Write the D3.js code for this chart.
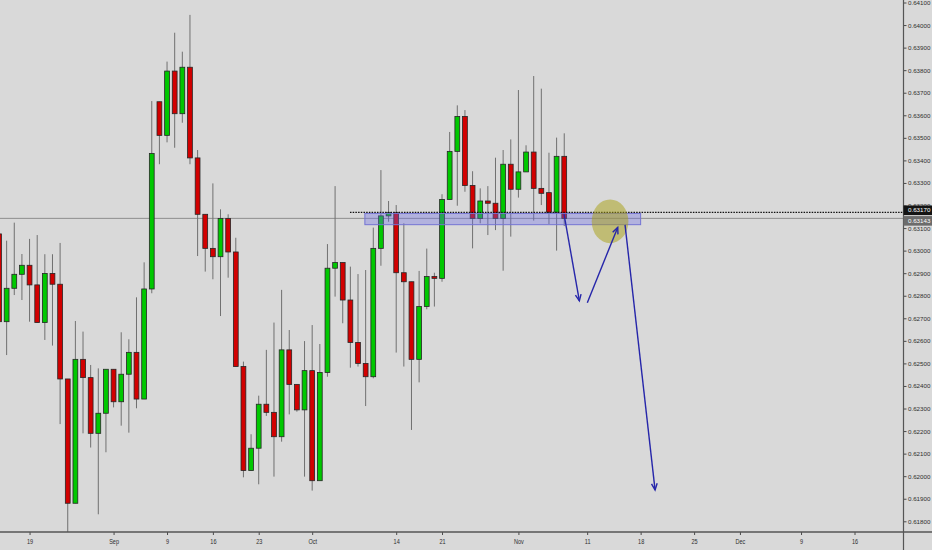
<!DOCTYPE html>
<html>
<head>
<meta charset="utf-8">
<script src="https://cdn.jsdelivr.net/npm/d3@7"></script>
<style>
html, body { margin: 0; padding: 0; background: #d9d9d9; overflow: hidden; }
</style>
</head>
<body>
<div id="chart"></div>
<script>
// daily candles, one per bar index (Sunday bars included)
var opens = [0.63074, 0.62685, 0.62833, 0.62895, 0.62935, 0.62848, 0.62681, 0.62899, 0.62851, 0.62431,
    0.61880, 0.62518, 0.62437, 0.62190, 0.62279, 0.62474, 0.62330, 0.62452, 0.62549, 0.62342,
    0.62830, 0.63660, 0.63511, 0.63796, 0.63607, 0.63813, 0.63411, 0.63161, 0.63010, 0.62973,
    0.63142, 0.62994, 0.62486, 0.62025, 0.62124, 0.62319, 0.62283, 0.62175, 0.62560, 0.62407,
    0.62294, 0.62468, 0.61980, 0.62460, 0.62922, 0.62947, 0.62781, 0.62593, 0.62500, 0.62441,
    0.63010, 0.63154, 0.63168, 0.62902, 0.62862, 0.62518, 0.62752, 0.62885, 0.62877, 0.63227,
    0.63440, 0.63595, 0.63289, 0.63143, 0.63220, 0.63210, 0.63143, 0.63383, 0.63272, 0.63349,
    0.63437, 0.63276, 0.63257, 0.63170, 0.63418];
var highs = [0.63091, 0.63044, 0.63124, 0.62985, 0.63052, 0.63069, 0.62984, 0.62984, 0.63034, 0.62431,
    0.62688, 0.62641, 0.62493, 0.62478, 0.62474, 0.62474, 0.62638, 0.62607, 0.62793, 0.62948,
    0.63663, 0.63660, 0.63838, 0.63966, 0.63882, 0.64045, 0.63446, 0.63161, 0.63298, 0.63183,
    0.63161, 0.63057, 0.62508, 0.62186, 0.62357, 0.62560, 0.62681, 0.62826, 0.62648, 0.62407,
    0.62599, 0.62670, 0.62586, 0.63029, 0.63286, 0.62947, 0.62929, 0.62896, 0.62914, 0.63102,
    0.63357, 0.63220, 0.63202, 0.63121, 0.62862, 0.62910, 0.63009, 0.62902, 0.63250, 0.63526,
    0.63644, 0.63623, 0.63352, 0.63276, 0.63286, 0.63412, 0.63446, 0.63493, 0.63712, 0.63467,
    0.63774, 0.63718, 0.63434, 0.63501, 0.63520];
var lows = [0.62670, 0.62537, 0.62803, 0.62781, 0.62685, 0.62681, 0.62604, 0.62579, 0.62231, 0.61745,
    0.61880, 0.62190, 0.62127, 0.61831, 0.62106, 0.62305, 0.62224, 0.62193, 0.62301, 0.62342,
    0.62811, 0.63383, 0.63480, 0.63456, 0.63567, 0.63383, 0.62976, 0.62907, 0.62873, 0.62710,
    0.62880, 0.62486, 0.61995, 0.62025, 0.61964, 0.62267, 0.61998, 0.62153, 0.62274, 0.62286,
    0.61998, 0.61936, 0.61980, 0.62441, 0.62796, 0.62678, 0.62481, 0.62486, 0.62311, 0.62434,
    0.62933, 0.63128, 0.62548, 0.62486, 0.62205, 0.62416, 0.62740, 0.62752, 0.62862, 0.63227,
    0.63199, 0.63261, 0.63010, 0.63121, 0.63069, 0.63091, 0.62911, 0.63062, 0.63235, 0.63349,
    0.63133, 0.63202, 0.63118, 0.63000, 0.63109];
var closes = [0.62685, 0.62833, 0.62895, 0.62935, 0.62848, 0.62681, 0.62899, 0.62851, 0.62431, 0.61880,
    0.62518, 0.62437, 0.62190, 0.62279, 0.62474, 0.62330, 0.62452, 0.62549, 0.62342, 0.62830,
    0.63431, 0.63511, 0.63796, 0.63607, 0.63813, 0.63411, 0.63161, 0.63010, 0.62973, 0.63142,
    0.62994, 0.62486, 0.62025, 0.62124, 0.62319, 0.62283, 0.62175, 0.62560, 0.62407, 0.62294,
    0.62468, 0.61980, 0.62460, 0.62922, 0.62947, 0.62781, 0.62593, 0.62500, 0.62441, 0.63010,
    0.63154, 0.63168, 0.62902, 0.62862, 0.62518, 0.62752, 0.62885, 0.62877, 0.63227, 0.63440,
    0.63595, 0.63289, 0.63143, 0.63220, 0.63210, 0.63143, 0.63383, 0.63272, 0.63349, 0.63437,
    0.63276, 0.63254, 0.63170, 0.63418, 0.63143];

var tickIndex = [4, 15, 22, 28, 34, 41, 52, 58, 68, 77, 84, 91, 97, 105, 112];
var tickLabels = ["19", "Sep", "9", "16", "23", "Oct", "14", "21", "Nov", "11", "18", "25", "Dec", "9", "16"];
var priceTicks = [0.618, 0.619, 0.620, 0.621, 0.622, 0.623, 0.624, 0.625, 0.626, 0.627, 0.628, 0.629,
    0.630, 0.631, 0.632, 0.633, 0.634, 0.635, 0.636, 0.637, 0.638, 0.639, 0.640, 0.641];

// drawings (bar index / price)
var lastPrice = 0.63143;
var levelPrice = 0.63170;
var levelStart = 45.95;
var zoneIndex = [47.9, 84.0];
var zonePrice = [0.63165, 0.63115];
var circleCenter = [80.0, 0.63130];
var circleSize = [2.4, 0.00097];
var arrowFrom = [[73.97, 0.63162], [77.02, 0.62769], [81.96, 0.63114]];
var arrowTo = [[75.98, 0.62777], [81.0, 0.63103], [85.89, 0.61939]];

var width = 932;
var height = 550;
var plotRight = 903.5;
var plotBottom = 532;
var font = "'Liberation Sans', Arial, sans-serif";

var x = d3.scaleLinear().domain([0, 112]).range([-1, 854.5]);
var y = d3.scaleLinear().domain([0.618, 0.641]).range([521.3, 2.5]);

var svg = d3.select("#chart").append("svg")
    .attr("width", width).attr("height", height)
    .style("display", "block")
    .style("font-family", font);

svg.append("rect").attr("width", width).attr("height", height).attr("fill", "#d9d9d9");

svg.append("clipPath").attr("id", "plot-clip")
    .append("rect").attr("x", 0).attr("y", 0).attr("width", plotRight).attr("height", plotBottom);

var plot = svg.append("g").attr("clip-path", "url(#plot-clip)");

// last price line
plot.append("line")
    .attr("x1", 0).attr("x2", plotRight)
    .attr("y1", y(lastPrice)).attr("y2", y(lastPrice))
    .attr("stroke", "#8e8e8e").attr("stroke-width", 1);

var bars = plot.append("g").selectAll("g")
    .data(opens.map(function(o, i) {
        return { i: i, open: o, high: highs[i], low: lows[i], close: closes[i] };
    }))
    .enter().append("g");

bars.append("line")
    .attr("x1", function(d) { return x(d.i); })
    .attr("x2", function(d) { return x(d.i); })
    .attr("y1", function(d) { return y(d.high); })
    .attr("y2", function(d) { return y(d.low); })
    .attr("stroke", "#707070").attr("stroke-width", 1);

bars.append("rect")
    .attr("x", function(d) { return x(d.i) - 2.4; })
    .attr("width", 4.8)
    .attr("y", function(d) { return y(Math.max(d.open, d.close)); })
    .attr("height", function(d) {
        return Math.max(1.5, Math.abs(y(d.open) - y(d.close)));
    })
    .attr("fill", function(d) { return d.close >= d.open ? "#00c800" : "#d20000"; })
    .attr("stroke", "#262626").attr("stroke-width", 0.8);

// support zone
plot.append("rect")
    .attr("x", x(zoneIndex[0]))
    .attr("width", x(zoneIndex[1]) - x(zoneIndex[0]))
    .attr("y", y(zonePrice[0]))
    .attr("height", y(zonePrice[1]) - y(zonePrice[0]))
    .attr("fill", "rgb(106,106,231)").attr("fill-opacity", 0.35)
    .attr("stroke", "#7474d4").attr("stroke-width", 1);

// dotted level ray
plot.append("line")
    .attr("x1", x(levelStart)).attr("x2", plotRight)
    .attr("y1", y(levelPrice)).attr("y2", y(levelPrice))
    .attr("stroke", "#111").attr("stroke-width", 1.3)
    .attr("stroke-dasharray", "1.5,1.2");

plot.append("ellipse")
    .attr("cx", x(circleCenter[0])).attr("cy", y(circleCenter[1]))
    .attr("rx", x(circleSize[0]) - x(0))
    .attr("ry", y(0.62) - y(0.62 + circleSize[1]))
    .attr("fill", "rgb(168,160,15)").attr("fill-opacity", 0.5);

// arrows
var arrowColor = "#2626aa";
arrowFrom.forEach(function(a, k) {
    var x1 = x(a[0]), y1 = y(a[1]), x2 = x(arrowTo[k][0]), y2 = y(arrowTo[k][1]);
    var ang = Math.atan2(y2 - y1, x2 - x1);
    var len = 7, spread = 0.42;
    plot.append("line")
        .attr("x1", x1).attr("y1", y1).attr("x2", x2).attr("y2", y2)
        .attr("stroke", arrowColor).attr("stroke-width", 1.4);
    plot.append("path")
        .attr("d", "M" + (x2 - len * Math.cos(ang - spread)) + "," + (y2 - len * Math.sin(ang - spread)) +
            "L" + x2 + "," + y2 +
            "L" + (x2 - len * Math.cos(ang + spread)) + "," + (y2 - len * Math.sin(ang + spread)))
        .attr("fill", "none").attr("stroke", arrowColor).attr("stroke-width", 1.4);
});

// axes
var xAxis = d3.axisBottom(x).tickValues(tickIndex)
    .tickFormat(function(d, i) { return tickLabels[i]; })
    .tickSize(3).tickPadding(4);
var xg = svg.append("g").attr("transform", "translate(0," + plotBottom + ")")
    .attr("color", "#4a4a4a").call(xAxis);
xg.select(".domain").remove();
xg.selectAll("text").attr("font-size", 7.5).attr("fill", "#2e2e2e")
    .attr("font-family", font)
    .attr("transform", "scale(0.74,1)");

var yAxis = d3.axisRight(y).tickValues(priceTicks)
    .tickFormat(d3.format(".5f"))
    .tickSize(3).tickPadding(1.5);
var yg = svg.append("g").attr("transform", "translate(" + plotRight + ",0)")
    .attr("color", "#4a4a4a").call(yAxis);
yg.select(".domain").remove();
yg.selectAll("text").attr("font-size", 6.2).attr("fill", "#2e2e2e")
    .attr("font-family", font);

svg.append("line").attr("x1", 0).attr("x2", width)
    .attr("y1", plotBottom).attr("y2", plotBottom)
    .attr("stroke", "#555").attr("stroke-width", 1.5);
svg.append("line").attr("x1", plotRight).attr("x2", plotRight)
    .attr("y1", 0).attr("y2", height)
    .attr("stroke", "#555").attr("stroke-width", 1.2);

// price labels on the scale
var labels = [
    { price: levelPrice, text: "0.63170", fill: "#141414", shift: -2 },
    { price: lastPrice, text: "0.63143", fill: "#6c6c6c", shift: 2.5 }
];
labels.forEach(function(l) {
    var cy = y(l.price) + l.shift;
    svg.append("rect")
        .attr("x", plotRight).attr("y", cy - 4.8)
        .attr("width", width - plotRight).attr("height", 9.6)
        .attr("fill", l.fill);
    svg.append("text")
        .attr("x", plotRight + 4.5).attr("y", cy).attr("dy", "0.34em")
        .attr("font-size", 6.2).attr("fill", "#fff")
        .text(l.text);
});
</script>
</body>
</html>
